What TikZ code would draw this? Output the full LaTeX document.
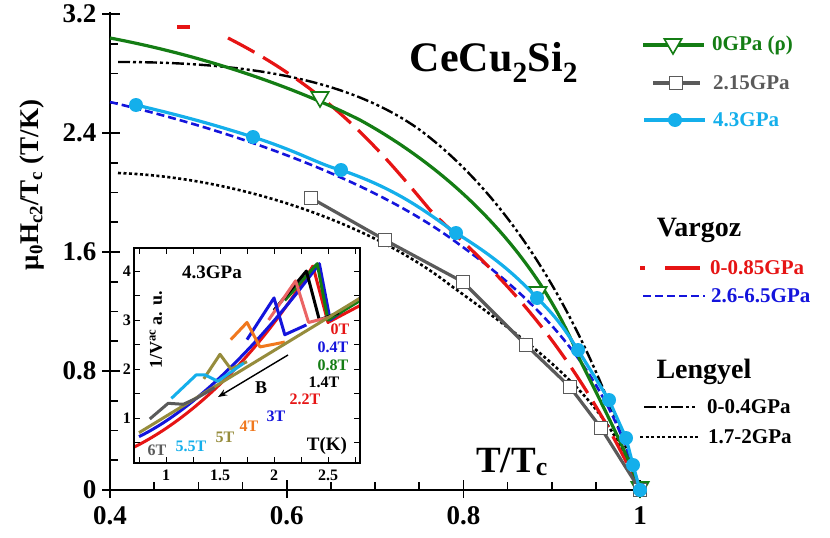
\documentclass[tikz,border=0pt]{standalone}
\usepackage{fontspec}
\setmainfont{Liberation Serif}
\usetikzlibrary{shapes.geometric,arrows.meta}
\definecolor{gr}{RGB}{20,125,20}
\definecolor{gy}{RGB}{90,90,90}
\definecolor{cy}{RGB}{20,175,235}
\definecolor{rd}{RGB}{230,20,20}
\definecolor{bl}{RGB}{20,20,220}
\definecolor{olv}{RGB}{150,140,60}
\definecolor{org}{RGB}{240,120,30}
\definecolor{pk}{RGB}{235,100,100}
\tikzset{
 crv/.style={line width=3.2pt,line join=round},
 tri/.style={draw=gr,fill=white,line width=1.6pt,isosceles triangle,isosceles triangle apex angle=60,shape border rotate=-90,inner sep=0pt,minimum size=15pt},
 sq/.style={draw=gy,fill=white,line width=1.6pt,rectangle,inner sep=0pt,minimum size=13pt},
 dot/.style={fill=cy,circle,inner sep=0pt,minimum size=14pt},
 lbl/.style={font=\bfseries\fontsize{27}{29}\selectfont},
 leg/.style={anchor=west,inner sep=0pt,font=\bfseries\fontsize{21}{22}\selectfont},
 ilbl/.style={font=\bfseries\fontsize{16}{17}\selectfont,inner sep=0pt},
 icrv/.style={line width=3pt,line join=round},
 dd/.style={line width=2.4pt,dash pattern=on 12pt off 3pt on 3pt off 3pt on 3pt off 3pt},
 dt/.style={line width=2.6pt,dash pattern=on 3pt off 2.5pt},
 bd/.style={bl,line width=2.6pt,dash pattern=on 8pt off 4pt},
 rdd/.style={rd,line width=3.2pt,dash pattern=on 30pt off 10pt}
}
\begin{document}
\begin{tikzpicture}[x=1pt,y=-1pt]
\useasboundingbox (0,0) rectangle (830,538);
% axes
\draw[line width=2pt] (110,12) -- (110,490) -- (643,490);
\foreach \i in {0,...,16}{\draw[line width=1.6pt] (110,490-\i*29.75) -- (118,490-\i*29.75);}
\foreach \i in {0,...,4}{\draw[line width=1.8pt] (102,490-\i*119) -- (120,490-\i*119);}
\foreach \i in {0,...,12}{\draw[line width=1.6pt] (110+\i*44.17,490) -- (110+\i*44.17,482);}
\foreach \i in {0,...,3}{\draw[line width=1.8pt] (110+\i*176.7,498) -- (110+\i*176.7,480);}
\foreach \v/\l in {0/0,1/0.8,2/1.6,3/2.4,4/3.2}{\node[lbl,anchor=east] (yl\v) at (100,490-\v*119) {\l};}
\foreach \v/\l in {0/0.4,1/0.6,2/0.8,3/1}{\node[lbl,anchor=north] (xl\v) at (110+\v*176.7,503) {\l};}
\node[lbl,rotate=90] (ylab) at (32,185) {μ$_{\mathbf 0}$H$_{\mathbf{c2}}$/T$_{\mathbf c}$ (T/K)};
\node[font=\bfseries\fontsize{42}{44}\selectfont] (title) at (494,62) {CeCu$_{\mathbf 2}$Si$_{\mathbf 2}$};
\node[font=\bfseries\fontsize{37}{40}\selectfont] (tt) at (512,462) {T/T$_{\mathbf c}$};
% curves
\draw[black,dd] (118,62) .. controls (250,62) and (350,80) .. (420,130) .. controls (500,190) and (580,300) .. (640,490);
\draw[black,dt] (118,173) .. controls (250,178) and (380,230) .. (450,285) .. controls (540,350) and (610,400) .. (640,490);
\draw[bd] (110,102) .. controls (250,135) and (380,185) .. (460,245) .. controls (550,310) and (610,380) .. (640,490);
\draw[rdd] (177,27) -- (190,27);
\draw[rdd] (228,38) .. controls (330,90) and (380,150) .. (430,210) .. controls (480,260) and (560,320) .. (640,490);
\draw[gr,crv] (110,38) .. controls (200,55) and (290,85) .. (360,120) .. controls (460,175) and (540,260) .. (580,360) .. controls (610,420) and (630,460) .. (640,490);
\node[tri] (g1) at (320,97) {};
\node[tri] (g2) at (538,292) {};
\node[tri] (g3) at (640,487) {};
\draw[gy,crv] (311,198) -- (385,240) -- (463,282) -- (526,345) -- (570,387) -- (601,428) -- (640,490);
\foreach \x/\y in {311/198,385/240,463/282,526/345,570/387,601/428,640/490}{\node[sq] at (\x,\y) {};}
\draw[cy,crv] (136,105) .. controls (200,120) and (230,130) .. (253,137) .. controls (300,152) and (320,165) .. (341,170) .. controls (400,190) and (430,215) .. (456,233) .. controls (500,260) and (520,280) .. (537,298) .. controls (560,320) and (570,338) .. (578,350) -- (609,400) -- (626,438) -- (633,465) -- (640,490);
\foreach \x/\y in {136/105,253/137,341/170,456/233,537/298,578/350,609/400,626/438,633/465,640/490}{\node[dot] at (\x,\y) {};}
% legend
\draw[gr,crv] (643,45) -- (704,45); \node[tri] (lg1) at (673,44) {};
\node[leg,gr] (t1) at (712,45) {0GPa (ρ)};
\draw[gy,crv] (653,83) -- (700,83); \node[sq] (lg2) at (676,83) {};
\node[leg,gy] (t2) at (713,83) {2.15GPa};
\draw[cy,crv] (644,120) -- (705,120); \node[dot] (lg3) at (675,120) {};
\node[leg,cy] (t3) at (713,120) {4.3GPa};
\node[font=\bfseries\fontsize{28}{30}\selectfont] (vg) at (699,230) {Vargoz};
\draw[rd,line width=3.2pt] (640,268) -- (645,268) (665,268) -- (700,268);
\node[leg,rd] (t4) at (710,268) {0-0.85GPa};
\draw[bd] (643,296) -- (705,296);
\node[leg,bl] (t5) at (711,296) {2.6-6.5GPa};
\node[font=\bfseries\fontsize{28}{30}\selectfont] (lg) at (704,372) {Lengyel};
\draw[black,dd] (644,407) -- (697,407);
\node[leg] (t6) at (707,407) {0-0.4GPa};
\draw[black,dt] (640,437) -- (700,437);
\node[leg] (t7) at (708,437) {1.7-2GPa};
% inset
\fill[white] (134,248) rectangle (360,463);
\begin{scope}[shift={(58,467)},x=108pt,y=49pt]
\clip (0.705,0.08) rectangle (2.8,4.45);
\draw[rd,icrv] (0.7,0.4) .. controls (1.2,0.95) and (1.8,2.1) .. (2.36,4.1) -- (2.5,2.95) -- (2.8,3.3);
\draw[bl,icrv] (0.75,0.62) .. controls (1.2,1.1) and (1.8,2.3) .. (2.42,4.15) -- (2.52,3.0) -- (2.8,3.45);
\draw[gr,icrv] (2.1,3.4) -- (2.4,4.15) -- (2.5,3.0) -- (2.8,3.4);
\draw[black,icrv] (2.0,3.2) -- (2.3,4.0) -- (2.42,3.0) -- (2.6,3.15);
\draw[pk,icrv] (1.95,3.0) -- (2.2,3.8) -- (2.32,2.95) -- (2.5,3.05);
\draw[bl,icrv] (1.75,2.6) -- (2.0,3.45) -- (2.1,2.7) -- (2.3,2.9);
\draw[org,icrv] (1.6,2.6) -- (1.75,2.95) -- (1.87,2.45) -- (2.1,2.55);
\draw[olv,icrv] (0.75,0.7) -- (2.8,3.45);
\draw[olv,icrv] (1.35,1.8) -- (1.5,2.3) -- (1.6,2.0) -- (1.75,2.15);
\draw[cy,icrv] (1.05,1.4) -- (1.28,1.88) -- (1.36,1.88) -- (1.48,1.75) -- (1.72,2.12);
\draw[gy,icrv] (0.85,0.98) -- (1.02,1.3) -- (1.16,1.28) -- (1.28,1.4) -- (1.45,1.62);
\end{scope}
\draw[line width=1.2pt] (134,248) rectangle (360,463);
\foreach \t in {0.75,1,...,2.75}{\draw[line width=1pt] (58+108*\t,463) -- (58+108*\t,457); \draw[line width=1pt] (58+108*\t,248) -- (58+108*\t,254);}
\foreach \v in {0.5,1,...,4}{\draw[line width=1pt] (134,467-49*\v) -- (140,467-49*\v); \draw[line width=1pt] (360,467-49*\v) -- (354,467-49*\v);}
\foreach \t in {1,1.5,2,2.5}{\node[ilbl,anchor=north] at (58+108*\t,470) {\t};}
\foreach \v in {1,2,3,4}{\node[ilbl,anchor=east] at (131,467-49*\v) {\v};}
\node[ilbl,font=\bfseries\fontsize{19}{20}\selectfont] (ip) at (212,272) {4.3GPa};
\node[ilbl,rotate=90,font=\bfseries\fontsize{18}{19}\selectfont] (iy) at (156,330) {1/V$^{\mathbf{ac}}$ a. u.};
\coordinate (a1) at (288,355); \coordinate (a2) at (218,397);
\draw[-{Stealth[length=9pt]},line width=1.4pt] (a1) -- (a2);
\node[ilbl,font=\bfseries\fontsize{18}{19}\selectfont] (bb) at (261,388) {B};
\node[ilbl,rd] at (340,329) {0T};
\node[ilbl,bl] at (333,347) {0.4T};
\node[ilbl,gr] at (333,365) {0.8T};
\node[ilbl] at (324,382) {1.4T};
\node[ilbl,rd] at (305,399) {2.2T};
\node[ilbl,bl] at (276,416) {3T};
\node[ilbl,org] at (249,426) {4T};
\node[ilbl,olv] at (225,437) {5T};
\node[ilbl,cy] at (191,446) {5.5T};
\node[ilbl,gy] at (157,450) {6T};
\node[ilbl,font=\bfseries\fontsize{19}{20}\selectfont] at (327,446) {T(K)};
\end{tikzpicture}
\end{document}
